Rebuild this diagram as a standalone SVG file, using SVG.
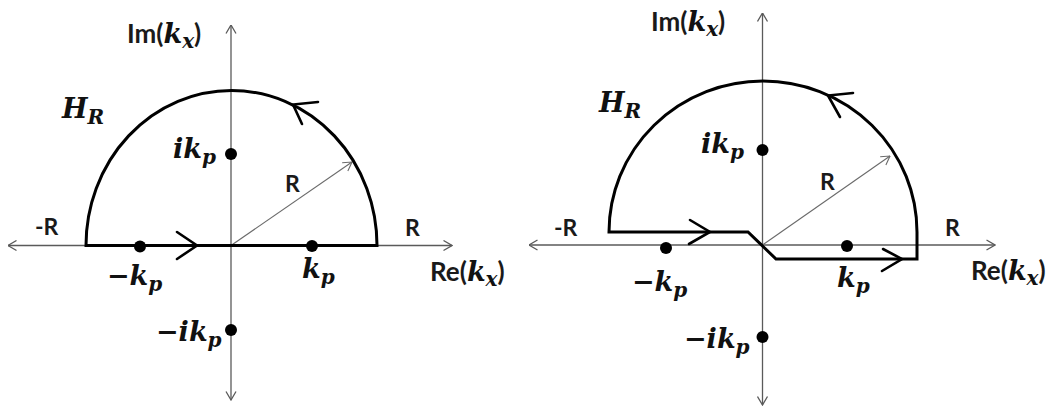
<svg xmlns="http://www.w3.org/2000/svg" width="1059" height="409" viewBox="0 0 1059 409">
<style>
.ax{fill:none;stroke:#5a5a5a;stroke-width:1.3}
.rad{fill:none;stroke:#6a6a6a;stroke-width:1.1}
.ct{fill:none;stroke:#000;stroke-width:3;stroke-linejoin:miter}
.chev{fill:none;stroke:#000;stroke-width:2.6;stroke-linecap:round;stroke-linejoin:miter}
.dot{fill:#000}
.sans{font-family:Lato,"Liberation Sans",sans-serif;font-size:26px;font-weight:bold;fill:#1a1a1a}
.lr{font-size:23px}
.m{font-family:"DejaVu Serif",serif;font-weight:bold;font-style:italic;font-size:27px;fill:#111}
.sub{font-size:20px}
</style>
<defs>
<marker id="ah" viewBox="0 0 10 12" refX="9.5" refY="6" markerWidth="10" markerHeight="12" markerUnits="userSpaceOnUse" orient="auto-start-reverse">
<path d="M1,1 L9.5,6 L1,11" fill="none" stroke="#5a5a5a" stroke-width="1.3"/>
</marker>
<marker id="rh" viewBox="0 0 10 12" refX="9.5" refY="6" markerWidth="10" markerHeight="12" markerUnits="userSpaceOnUse" orient="auto">
<path d="M1,1 L9.5,6 L1,11" fill="none" stroke="#6a6a6a" stroke-width="1.1"/>
</marker>
</defs>
<rect width="1059" height="409" fill="#fff"/>

<g id="connectors">
<!-- left panel axes -->
<line class="ax" x1="8" y1="245.5" x2="452" y2="245.5" marker-start="url(#ah)" marker-end="url(#ah)"/>
<line class="ax" x1="231" y1="400" x2="231" y2="25" marker-start="url(#ah)" marker-end="url(#ah)"/>
<line class="rad" x1="231" y1="245.5" x2="352" y2="162" marker-end="url(#rh)"/>
<!-- left contour -->
<path class="ct" d="M86,245.5 H377 A145.5,155 0 0 0 86,245.5 Z"/>
<path class="chev" d="M177,232 L197,245.5 L177,259"/>
<path class="chev" d="M318,102 L293,104.5 L302,124"/>

<!-- right panel axes -->
<line class="ax" x1="529" y1="245" x2="995" y2="245" marker-start="url(#ah)" marker-end="url(#ah)"/>
<line class="ax" x1="762.5" y1="405" x2="762.5" y2="13" marker-start="url(#ah)" marker-end="url(#ah)"/>
<line class="rad" x1="762.5" y1="245" x2="890" y2="156" marker-end="url(#rh)"/>
<!-- right contour -->
<path class="ct" d="M609,232 H748 L776,259 H917 V232 A154,151 0 0 0 609,232 Z"/>
<path class="chev" d="M690,220 L710,232 L689,244"/>
<path class="chev" d="M883,249 L902,259 L882,271"/>
<path class="chev" d="M853,93 L828,95.5 L840,117"/>
</g>

<g id="left-poles">
<circle id="L-ikp-dot" class="dot" cx="231" cy="154" r="6"/>
<circle id="L-mkp-dot" class="dot" cx="140" cy="246.5" r="6"/>
<circle id="L-kp-dot" class="dot" cx="312" cy="246" r="6"/>
<circle id="L-mikp-dot" class="dot" cx="231" cy="330" r="6"/>
</g>
<g id="right-poles">
<circle id="R-ikp-dot" class="dot" cx="762.5" cy="150" r="6"/>
<circle id="R-mkp-dot" class="dot" cx="666" cy="248" r="6"/>
<circle id="R-kp-dot" class="dot" cx="847" cy="246" r="6"/>
<circle id="R-mikp-dot" class="dot" cx="762.5" cy="337" r="6"/>
</g>

<g id="left-labels">
<g id="L-im"><text x="127" y="43" class="sans">Im(<tspan class="m">k</tspan><tspan class="m sub" dy="5">x</tspan><tspan dy="-5">)</tspan></text></g>
<g id="L-hr"><text x="62" y="118" class="m">H<tspan class="sub" dy="6">R</tspan></text></g>
<g id="L-ikp"><text x="173" y="158" class="m">ik<tspan class="sub" dy="6">p</tspan></text></g>
<g id="L-rad"><text x="285" y="192" class="sans lr">R</text></g>
<g id="L-mR"><text x="35" y="235" class="sans lr">-R</text></g>
<g id="L-R"><text x="405" y="236" class="sans lr">R</text></g>
<g id="L-mkp"><text x="107" y="285" class="m">−k<tspan class="sub" dy="6">p</tspan></text></g>
<g id="L-kp"><text x="302" y="278" class="m">k<tspan class="sub" dy="6">p</tspan></text></g>
<g id="L-re"><text x="430" y="281" class="sans">Re(<tspan class="m">k</tspan><tspan class="m sub" dy="5">x</tspan><tspan dy="-5">)</tspan></text></g>
<g id="L-mikp"><text x="156" y="341" class="m">−ik<tspan class="sub" dy="6">p</tspan></text></g>
</g>

<g id="right-labels">
<g id="R-im"><text x="651" y="31" class="sans">Im(<tspan class="m">k</tspan><tspan class="m sub" dy="5">x</tspan><tspan dy="-5">)</tspan></text></g>
<g id="R-hr"><text x="599" y="112" class="m">H<tspan class="sub" dy="6">R</tspan></text></g>
<g id="R-ikp"><text x="701" y="153" class="m">ik<tspan class="sub" dy="6">p</tspan></text></g>
<g id="R-rad"><text x="820" y="190" class="sans lr">R</text></g>
<g id="R-mR"><text x="554" y="236" class="sans lr">-R</text></g>
<g id="R-R"><text x="945" y="236" class="sans lr">R</text></g>
<g id="R-mkp"><text x="632" y="291" class="m">−k<tspan class="sub" dy="6">p</tspan></text></g>
<g id="R-kp"><text x="837" y="287" class="m">k<tspan class="sub" dy="6">p</tspan></text></g>
<g id="R-re"><text x="971" y="280" class="sans">Re(<tspan class="m">k</tspan><tspan class="m sub" dy="5">x</tspan><tspan dy="-5">)</tspan></text></g>
<g id="R-mikp"><text x="684" y="348" class="m">−ik<tspan class="sub" dy="6">p</tspan></text></g>
</g>
</svg>
